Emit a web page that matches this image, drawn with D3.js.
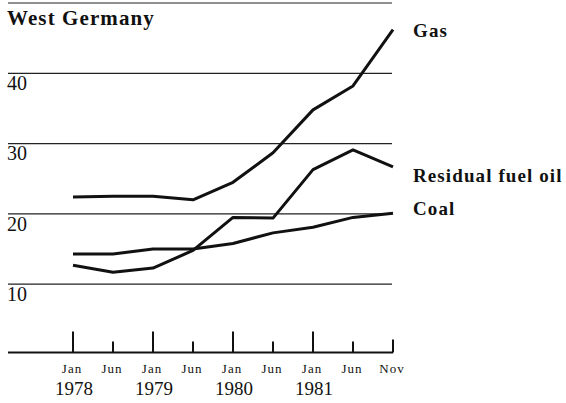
<html>
<head>
<meta charset="UTF-8">
<script src="https://d3js.org/d3.v7.min.js"></script>
<style>
  body { margin: 0; background: #fff; }
  text { font-family: "Liberation Serif", "DejaVu Serif", serif; fill: #111; }
</style>
</head>
<body>
<svg width="566" height="403"></svg>
<script>
// data
const months = ['Jan', 'Jun', 'Jan', 'Jun', 'Jan', 'Jun', 'Jan', 'Jun', 'Nov']
const years = ['1978', '1979', '1980', '1981']
const gas = [22.4, 22.5, 22.5, 22.0, 24.5, 28.7, 34.8, 38.2, 46.2]
const fuelOil = [12.7, 11.7, 12.3, 14.8, 19.5, 19.4, 26.3, 29.1, 26.7]
const coal = [14.3, 14.3, 15.0, 15.0, 15.8, 17.3, 18.1, 19.5, 20.1]
const yTicks = [10, 20, 30, 40, 50]
const seriesNames = ['Gas', 'Residual fuel oil', 'Coal']

const svg = d3.select('svg')
const idx = d3.range(months.length)

const x = d3.scalePoint().domain(idx).range([73, 393])
const y = d3.scaleLinear().domain([0, 50]).range([354.5, 3])
const base = 352.5

// grid lines
svg.append('g').selectAll('line').data(yTicks).enter()
  .append('line')
  .attr('x1', 8).attr('x2', 392)
  .attr('y1', d => y(d)).attr('y2', d => y(d))
  .attr('stroke', '#222').attr('stroke-width', 1.2)

svg.append('g').selectAll('text').data(yTicks.filter(d => d < 50)).enter()
  .append('text')
  .attr('x', 7).attr('y', d => y(d) + 16.8)
  .attr('font-size', 20)
  .text(d => d)

svg.append('text')
  .attr('x', 7).attr('y', 25)
  .attr('font-size', 21).attr('font-weight', 'bold')
  .attr('letter-spacing', 1.1)
  .text('West Germany')

// baseline + ticks
svg.append('line')
  .attr('x1', 8).attr('x2', x(8))
  .attr('y1', base).attr('y2', base)
  .attr('stroke', '#111').attr('stroke-width', 2)

svg.append('g').selectAll('line').data(idx).enter()
  .append('line')
  .attr('x1', d => x(d)).attr('x2', d => x(d))
  .attr('y1', base)
  .attr('y2', d => months[d] == 'Jan' ? base - 21 : (months[d] == 'Nov' ? base - 13 : base - 11))
  .attr('stroke', '#111').attr('stroke-width', 2)

svg.append('g').selectAll('text').data(idx).enter()
  .append('text')
  .attr('x', d => x(d) - 1).attr('y', 373)
  .attr('text-anchor', 'middle')
  .attr('font-size', 13).attr('letter-spacing', 1)
  .text(d => months[d])

svg.append('g').selectAll('text').data(years).enter()
  .append('text')
  .attr('x', (d, i) => x(i * 2) + 1).attr('y', 395)
  .attr('text-anchor', 'middle')
  .attr('font-size', 19)
  .text(d => d)

// lines
const line = d3.line().x((d, i) => x(i)).y(d => y(d))
const all = [gas, fuelOil, coal]
svg.append('g').selectAll('path').data(all).enter()
  .append('path')
  .attr('d', line)
  .attr('fill', 'none')
  .attr('stroke', '#111')
  .attr('stroke-width', 3)
  .attr('stroke-linejoin', 'round')

// series labels
const labelY = [37, 182, 215]
svg.append('g').selectAll('text').data(seriesNames).enter()
  .append('text')
  .attr('x', 413).attr('y', (d, i) => labelY[i])
  .attr('font-size', 19).attr('font-weight', 'bold')
  .attr('letter-spacing', 1.1)
  .text(d => d)
</script>
</body>
</html>
